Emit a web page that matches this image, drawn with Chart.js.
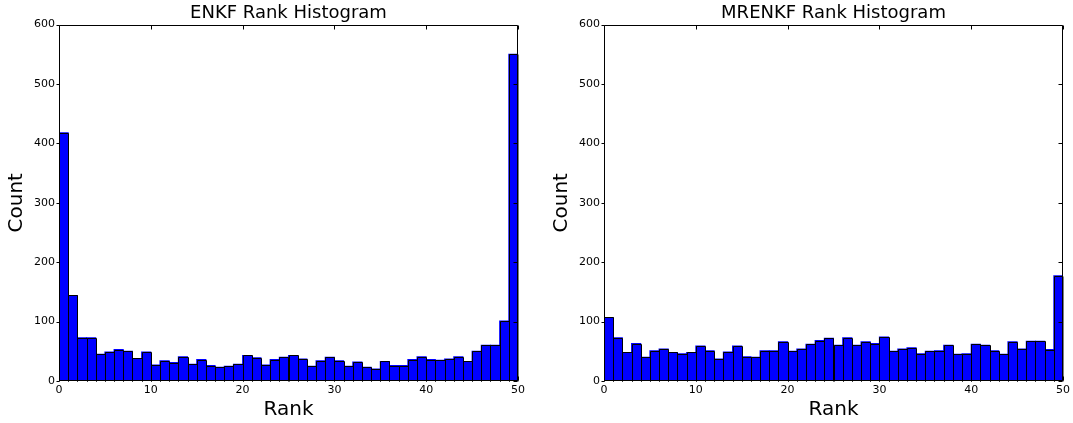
<!DOCTYPE html>
<html>
<head>
<meta charset="utf-8">
<title>Rank Histograms</title>
<script src="https://cdn.jsdelivr.net/npm/chart.js@4.4.1/dist/chart.umd.min.js"></script>
<style>
    html, body { margin: 0; padding: 0; background: #fff; }
    body { width: 1073px; height: 423px; position: relative; overflow: hidden; }
    .panel { position: absolute; top: 0; height: 423px; }
    #enkf-wrap { left: 0; width: 530px; }
    #mrenkf-wrap { left: 545px; width: 528px; }
</style>
</head>
<body>
<div class="panel" id="enkf-wrap"><canvas id="enkf"></canvas></div>
<div class="panel" id="mrenkf-wrap"><canvas id="mrenkf"></canvas></div>
<script>
// counts per rank bin (bins 0..49, width 1)
const enkfCounts = [
    418, 144, 73, 73, 45, 49, 53, 50, 38, 49,
    27, 34, 31, 41, 28, 36, 26, 23, 25, 28,
    43, 39, 27, 36, 40, 43, 37, 25, 34, 40,
    34, 25, 32, 23, 20, 33, 26, 26, 36, 41,
    36, 35, 37, 41, 33, 50, 60, 60, 101, 550
];
const mrenkfCounts = [
    107, 73, 48, 63, 40, 51, 54, 48, 46, 48,
    59, 51, 37, 49, 59, 41, 40, 51, 51, 66,
    50, 54, 62, 68, 72, 60, 73, 60, 66, 63,
    74, 50, 54, 56, 46, 50, 51, 60, 45, 46,
    62, 60, 51, 45, 66, 54, 67, 67, 53, 177
];
const xTicks = [0, 10, 20, 30, 40, 50];
const yTicks = [0, 100, 200, 300, 400, 500, 600];

Chart.defaults.font.family = "'DejaVu Sans', sans-serif";
Chart.defaults.color = '#000';

// crisp 1px black outline around every bar, snapped to whole pixels
const barEdgePlugin = {
    id: 'barEdges',
    afterDatasetsDraw(chart) {
        const { ctx } = chart;
        const a = chart.chartArea;
        ctx.save();
        ctx.strokeStyle = '#000';
        ctx.lineWidth = 1;
        ctx.beginPath();
        chart.getDatasetMeta(0).data.forEach(bar => {
            const { x, y, base, width } = bar.getProps(['x', 'y', 'base', 'width'], true);
            const l = Math.round(x - width / 2) + 0.5;
            const r = Math.round(x + width / 2) + 0.5;
            const t = Math.round(y) + 0.5;
            const b = Math.round(base) + 0.5;
            ctx.moveTo(l, b); ctx.lineTo(l, t);
            ctx.lineTo(Math.min(r, a.right), t);
            ctx.lineTo(Math.min(r, a.right), b);
        });
        ctx.stroke();
        ctx.restore();
    }
};

// matplotlib-style box: full frame, ticks inward on top/right/bottom, short outward on left
const framePlugin = {
    id: 'frame',
    afterDatasetsDraw(chart) {
        const { ctx, chartArea: a, scales: { x, y } } = chart;
        const left = Math.round(a.left) + 0.5;
        const right = Math.round(a.right) - 0.5;
        const top = Math.round(a.top) + 0.5;
        const bottom = Math.round(a.bottom) - 0.5;
        ctx.save();
        ctx.strokeStyle = '#000';
        ctx.lineWidth = 1;
        ctx.beginPath();
        xTicks.forEach(v => {
            const px = Math.round(x.getPixelForValue(v)) + 0.5;
            ctx.moveTo(px, top); ctx.lineTo(px, top + 4);
            ctx.moveTo(px, bottom); ctx.lineTo(px, bottom - 4);
        });
        yTicks.forEach(v => {
            const py = Math.round(y.getPixelForValue(v)) + 0.5;
            ctx.moveTo(left - 3, py); ctx.lineTo(left, py);
            ctx.moveTo(right, py); ctx.lineTo(right - 4, py);
        });
        ctx.moveTo(left, top); ctx.lineTo(right, top);
        ctx.lineTo(right, bottom); ctx.lineTo(left, bottom);
        ctx.closePath();
        ctx.stroke();
        ctx.restore();
    }
};

function makeHistogram(canvasId, title, counts, rightPad) {
    const ctx = document.getElementById(canvasId);
    return new Chart(ctx, {
        type: 'bar',
        data: {
            datasets: [{
                data: counts.map((c, i) => ({ x: i + 0.5, y: c })),
                backgroundColor: '#0000ff',
                borderWidth: 0,
                inflateAmount: 0.5,
                barPercentage: 1,
                categoryPercentage: 1
            }]
        },
        options: {
            responsive: true,
            maintainAspectRatio: false,
            animation: false,
            layout: { padding: { left: 0, right: rightPad, top: 0, bottom: 0 } },
            plugins: {
                legend: { display: false },
                tooltip: { enabled: false },
                title: {
                    display: true,
                    text: title,
                    fullSize: false,
                    color: '#000',
                    font: { size: 18, weight: 'normal', lineHeight: 1.2 },
                    padding: { top: 3, bottom: 0 }
                }
            },
            scales: {
                x: {
                    type: 'linear',
                    min: 0,
                    max: 50,
                    offset: false,
                    grid: { display: false, drawTicks: false, offset: false },
                    border: { display: false },
                    ticks: {
                        stepSize: 10,
                        padding: 3,
                        maxRotation: 0,
                        font: { size: 11 },
                        color: '#000'
                    },
                    title: {
                        display: true,
                        text: 'Rank',
                        color: '#000',
                        font: { size: 20, lineHeight: 1.2 },
                        padding: { top: 0, bottom: 1 }
                    },
                    afterFit: s => { s.height = 42; }
                },
                y: {
                    min: 0,
                    max: 600,
                    grid: { display: false, drawTicks: false },
                    border: { display: false },
                    ticks: {
                        stepSize: 100,
                        padding: 4,
                        font: { size: 11 },
                        color: '#000'
                    },
                    title: {
                        display: true,
                        text: 'Count',
                        color: '#000',
                        font: { size: 20, lineHeight: 1.2 },
                        padding: { top: 5, bottom: 0 }
                    },
                    afterFit: s => { s.width = 59; }
                }
            }
        },
        plugins: [barEdgePlugin, framePlugin]
    });
}

makeHistogram('enkf', 'ENKF Rank Histogram', enkfCounts, 12);
makeHistogram('mrenkf', 'MRENKF Rank Histogram', mrenkfCounts, 10);
</script>
</body>
</html>
